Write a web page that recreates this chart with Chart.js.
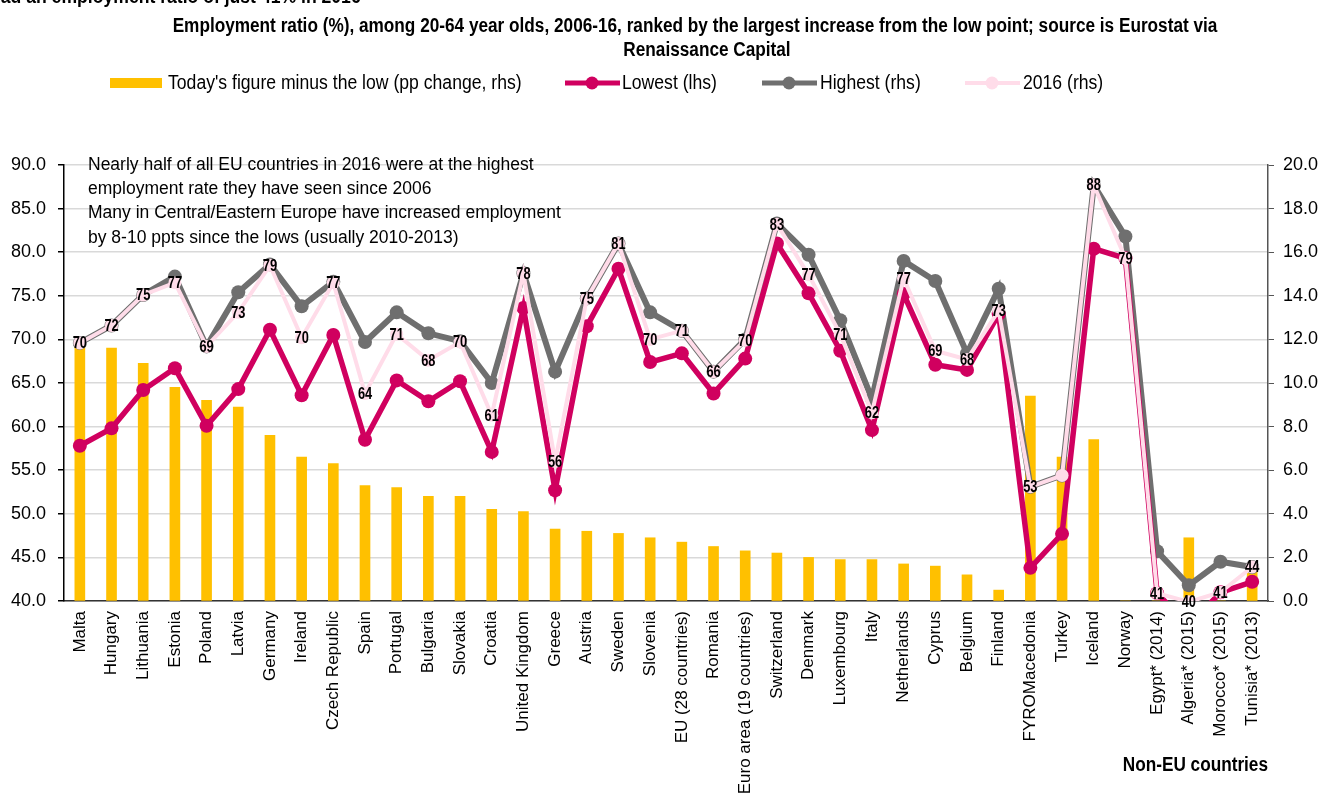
<!DOCTYPE html>
<html>
<head>
<meta charset="utf-8">
<title>Employment ratio 2006-16</title>
<script src="https://cdn.jsdelivr.net/npm/chart.js@4"></script>
<style>
    html, body { margin: 0; padding: 0; background: #fff; }
    #contenedor { position: relative; width: 1337px; height: 803px; }
</style>
</head>
<body>
<div id="contenedor"><canvas id="grafico"></canvas></div>
<script>
// Datos
const categorias = ['Malta', 'Hungary', 'Lithuania', 'Estonia', 'Poland', 'Latvia', 'Germany', 'Ireland',
    'Czech Republic', 'Spain', 'Portugal', 'Bulgaria', 'Slovakia', 'Croatia', 'United Kingdom', 'Greece',
    'Austria', 'Sweden', 'Slovenia', 'EU (28 countries)', 'Romania', 'Euro area (19 countries)', 'Switzerland',
    'Denmark', 'Luxembourg', 'Italy', 'Netherlands', 'Cyprus', 'Belgium', 'Finland', 'FYROMacedonia', 'Turkey',
    'Iceland', 'Norway', 'Egypt* (2014)', 'Algeria* (2015)', 'Morocco* (2015)', 'Tunisia* (2013)'];

// Today's figure minus the low (pp, eje derecho)
const cambioDesdeMinimo = [11.7, 11.6, 10.9, 9.8, 9.2, 8.9, 7.6, 6.6, 6.3, 5.3, 5.2, 4.8, 4.8, 4.2, 4.1, 3.3,
    3.2, 3.1, 2.9, 2.7, 2.5, 2.3, 2.2, 2.0, 1.9, 1.9, 1.7, 1.6, 1.2, 0.5, 9.4, 6.6, 7.4, 0, 0, 2.9, 0, 1.7];

// Lowest (eje izquierdo)
const minimo = [57.8, 59.8, 64.2, 66.7, 60.1, 64.3, 71.1, 63.6, 70.5, 58.5, 65.3, 62.9, 65.2, 57.1, 73.6, 52.7,
    71.5, 78.1, 67.4, 68.4, 63.8, 67.8, 81.0, 75.3, 68.7, 59.6, 75.2, 67.1, 66.5, 72.9, 43.8, 47.7, 80.4, 79.3,
    40.9, 37.1, 41.0, 42.2];

// Highest
const maximo = [69.6, 71.6, 75.1, 77.2, 69.2, 75.4, 78.6, 73.8, 76.6, 69.7, 73.1, 70.7, 69.8, 65.0, 77.6, 66.3,
    74.7, 81.0, 73.1, 71.0, 66.3, 70.0, 83.3, 79.7, 72.2, 63.2, 79.0, 76.7, 68.4, 75.8, 53.1, 54.4, 87.7, 81.8,
    45.7, 41.8, 44.5, 43.9];

// 2016
const valor2016 = [69.6, 71.6, 75.1, 76.5, 69.2, 73.1, 78.5, 70.2, 76.5, 63.8, 70.6, 67.6, 69.7, 61.3, 77.6, 56.0,
    74.7, 81.0, 70.0, 71.0, 66.3, 69.9, 83.2, 77.4, 70.6, 61.6, 77.0, 68.7, 67.7, 73.3, 53.1, 54.4, 87.7, 79.3,
    40.9, 39.9, 41.0, 43.9];

const sinEtiqueta = ['Turkey'];

const ticksIzquierda = [40, 45, 50, 55, 60, 65, 70, 75, 80, 85, 90];
const ticksDerecha = [0, 2, 4, 6, 8, 10, 12, 14, 16, 18, 20];

const titulo = ['Employment ratio (%), among 20-64 year olds, 2006-16, ranked by the largest increase from the low point; source is Eurostat via',
    'Renaissance Capital'];
const textoCortado = 'had an employment ratio of just 41% in 2016';
const nota = ['Nearly half of all EU countries in 2016 were at the highest',
    'employment rate they have seen since 2006',
    'Many in Central/Eastern Europe have increased employment',
    'by 8-10 ppts since the lows (usually 2010-2013)'];
const leyenda = ["Today's figure minus the low (pp change, rhs)", 'Lowest (lhs)', 'Highest (rhs)', '2016 (rhs)'];

const COLOR_BARRA = '#FFC000';
const COLOR_MINIMO = '#D0005F';
const COLOR_MAXIMO = '#6F6F6F';
const COLOR_2016 = '#FFDCE9';
const SANS = '"Liberation Sans", Arial, sans-serif';

// no hay Arial Narrow: se estrecha el texto en horizontal
function textoEstrecho(ctx, texto, x, y, escala, align) {
    ctx.save();
    ctx.translate(x, y);
    ctx.scale(escala, 1);
    ctx.textAlign = align;
    ctx.fillText(texto, 0, 0);
    ctx.restore();
}

// etiquetas de datos sobre los puntos de 2016
const etiquetasPlugin = {
    id: 'etiquetas2016',
    afterDatasetsDraw(chart) {
        const ctx = chart.ctx;
        const idx = chart.data.datasets.findIndex(d => d.label === leyenda[3]);
        const meta = chart.getDatasetMeta(idx);
        ctx.save();
        ctx.font = 'bold 16px ' + SANS;
        ctx.fillStyle = '#000';
        ctx.textBaseline = 'middle';
        meta.data.forEach((pt, i) => {
            if (sinEtiqueta.includes(categorias[i])) return;
            textoEstrecho(ctx, String(Math.round(valor2016[i])), pt.x, pt.y + 1, 0.8, 'center');
        });
        ctx.restore();
    }
};

// titulo, leyenda y notas
const textosPlugin = {
    id: 'textos',
    afterDraw(chart) {
        const ctx = chart.ctx;
        ctx.save();
        ctx.fillStyle = '#000';

        ctx.font = 'bold 20px ' + SANS;
        ctx.textBaseline = 'alphabetic';
        textoEstrecho(ctx, textoCortado, -10, 3, 0.88, 'left');

        textoEstrecho(ctx, titulo[0], 695, 32, 0.86, 'center');
        textoEstrecho(ctx, titulo[1], 707, 56, 0.86, 'center');

        // leyenda
        const yl = 83;
        ctx.fillStyle = COLOR_BARRA;
        ctx.fillRect(110, 78, 52, 10);
        const lineas = [
            { x: 565, color: COLOR_MINIMO, ancho: 5 },
            { x: 762, color: COLOR_MAXIMO, ancho: 5 },
            { x: 965, color: COLOR_2016, ancho: 4 }
        ];
        lineas.forEach(l => {
            ctx.strokeStyle = l.color;
            ctx.lineWidth = l.ancho;
            ctx.beginPath();
            ctx.moveTo(l.x, yl);
            ctx.lineTo(l.x + 55, yl);
            ctx.stroke();
            ctx.fillStyle = l.color;
            ctx.beginPath();
            ctx.arc(l.x + 27, yl, 6.5, 0, Math.PI * 2);
            ctx.fill();
        });
        ctx.fillStyle = '#000';
        ctx.font = '20px ' + SANS;
        ctx.textBaseline = 'middle';
        textoEstrecho(ctx, leyenda[0], 168, yl, 0.88, 'left');
        textoEstrecho(ctx, leyenda[1], 622, yl, 0.88, 'left');
        textoEstrecho(ctx, leyenda[2], 820, yl, 0.88, 'left');
        textoEstrecho(ctx, leyenda[3], 1023, yl, 0.88, 'left');

        // nota dentro del grafico
        ctx.font = '17.5px ' + SANS;
        ctx.textAlign = 'left';
        nota.forEach((t, i) => ctx.fillText(t, 88, 165 + i * 24.3));

        ctx.font = 'bold 20px ' + SANS;
        textoEstrecho(ctx, 'Non-EU countries', 1268, 765, 0.86, 'right');
        ctx.restore();
    }
};

function crearGrafico() {
    const canvas = document.getElementById('grafico');
    new Chart(canvas.getContext('2d'), {
        type: 'bar',
        data: {
            labels: categorias,
            datasets: [
                {
                    type: 'line', label: leyenda[3], data: valor2016, yAxisID: 'y', order: 1,
                    borderColor: COLOR_2016, borderWidth: 4, tension: 0,
                    pointRadius: 6.5, pointBackgroundColor: COLOR_2016, pointBorderColor: COLOR_2016, pointBorderWidth: 0
                },
                {
                    type: 'line', label: leyenda[1], data: minimo, yAxisID: 'y', order: 2,
                    borderColor: COLOR_MINIMO, borderWidth: 5.5, tension: 0,
                    pointRadius: 7, pointBackgroundColor: COLOR_MINIMO, pointBorderColor: COLOR_MINIMO, pointBorderWidth: 0
                },
                {
                    type: 'line', label: leyenda[2], data: maximo, yAxisID: 'y', order: 3,
                    borderColor: COLOR_MAXIMO, borderWidth: 6, tension: 0,
                    pointRadius: 7, pointBackgroundColor: COLOR_MAXIMO, pointBorderColor: COLOR_MAXIMO, pointBorderWidth: 0
                },
                {
                    type: 'bar', label: leyenda[0], data: cambioDesdeMinimo, yAxisID: 'y2', order: 4,
                    backgroundColor: COLOR_BARRA, barThickness: 10
                }
            ]
        },
        options: {
            responsive: true,
            maintainAspectRatio: false,
            animation: false,
            events: [],
            layout: { padding: { top: 165, left: 0, right: 0, bottom: 0 } },
            plugins: {
                legend: { display: false },
                title: { display: false },
                tooltip: { enabled: false }
            },
            scales: {
                x: {
                    offset: true,
                    grid: { display: false, drawTicks: false },
                    border: { display: true, color: '#333', width: 1.5 },
                    ticks: {
                        autoSkip: false, minRotation: 90, maxRotation: 90, padding: 10,
                        color: '#000', font: { family: SANS, size: 17 }
                    },
                    afterFit: s => { s.height = 202; }
                },
                y: {
                    position: 'left', min: 40, max: 90,
                    afterBuildTicks: s => { s.ticks = ticksIzquierda.map(v => ({ value: v })); },
                    grid: { color: '#D9D9D9', lineWidth: 1.5, tickColor: '#000', tickLength: 6 },
                    border: { color: '#000', width: 1.5 },
                    ticks: {
                        padding: 12, color: '#000', font: { family: SANS, size: 18 },
                        callback: v => v.toFixed(1)
                    },
                    afterFit: s => { s.width = 64; }
                },
                y2: {
                    position: 'right', min: 0, max: 20,
                    afterBuildTicks: s => { s.ticks = ticksDerecha.map(v => ({ value: v })); },
                    grid: { drawOnChartArea: false, tickColor: '#555', tickLength: 6 },
                    border: { color: '#555', width: 1.5 },
                    ticks: {
                        padding: 9, color: '#000', font: { family: SANS, size: 18 },
                        callback: v => v.toFixed(1)
                    },
                    afterFit: s => { s.width = 69; }
                }
            }
        },
        plugins: [etiquetasPlugin, textosPlugin]
    });
}

crearGrafico();
</script>
</body>
</html>
